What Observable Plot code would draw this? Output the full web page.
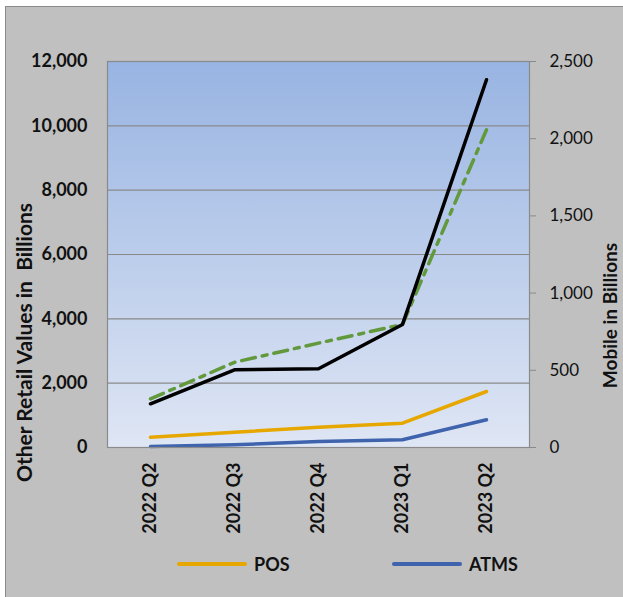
<!DOCTYPE html>
<html>
<head>
<meta charset="utf-8">
<script src="https://cdn.jsdelivr.net/npm/d3@7"></script>
<script src="https://cdn.jsdelivr.net/npm/@observablehq/plot@0.6"></script>
<style>
  html, body { margin: 0; padding: 0; background: #fff; }
  body { width: 623px; height: 597px; position: relative; overflow: hidden; font-family: Lato, "Open Sans", sans-serif; }
  #panel { position: absolute; left: 5px; top: 6px; right: 0; bottom: 0; background: #c0c0c0; border-left: 1px solid #8a8a8a; border-top: 1px solid #8a8a8a; }
  #chart { position: absolute; left: 0; top: 0; }
  .leg { position: absolute; top: 552px; height: 24px; display: flex; align-items: center; font-weight: bold; font-size: 18px; color: #111; }
  .leg .sw { width: 70px; height: 4px; border-radius: 2px; margin-right: 7px; }
</style>
</head>
<body>
<div id="panel"></div>
<div id="chart"></div>
<div class="leg" style="left:177px"><div class="sw" style="background:#e6a800"></div>POS</div>
<div class="leg" style="left:392px"><div class="sw" style="background:#3f64ad"></div>ATMS</div>
<script>
const quarters = ["2022 Q2", "2022 Q3", "2022 Q4", "2023 Q1", "2023 Q2"];
const pos = [320, 476, 631, 755, 1741];            // left axis
const atms = [31, 84, 187, 239, 861];              // left axis
const mobileBlack = [283, 503, 510, 797, 2382];    // right axis (Mobile)
const mobileGreen = [315, 552, 676, 797, 2058];    // right axis (dashed)
const leftTicks = [0, 2000, 4000, 6000, 8000, 10000, 12000];
const rightTicks = [0, 500, 1000, 1500, 2000, 2500];

const ratio = 12000 / 2500;
const rows = quarters.map((q, i) => ({
  q, pos: pos[i], atms: atms[i], blk: mobileBlack[i] * ratio, grn: mobileGreen[i] * ratio
}));
const fmt = d3.format(",");

const svg = Plot.plot({
  width: 623,
  height: 542,
  marginLeft: 107,
  marginRight: 94,
  marginTop: 61,
  marginBottom: 95,
  style: { background: "transparent", fontFamily: "Lato, 'Open Sans', sans-serif", color: "#111" },
  x: { type: "point", domain: quarters, padding: 0.5 },
  y: { domain: [0, 12000] },
  marks: [
    Plot.frame({ fill: "#9ab5e3" }),
    Plot.gridY(leftTicks.slice(1, -1), { stroke: "#8a8a8a", strokeOpacity: 1, strokeWidth: 1.2 }),
    Plot.axisY(leftTicks, { anchor: "left", tickSize: 0, tickPadding: 20, fontWeight: "bold", fontSize: 18, tickFormat: fmt, label: null }),
    Plot.axisY(rightTicks.map(d => d * ratio), { anchor: "right", tickSize: 6, tickPadding: 14, stroke: "#8a8a8a", fontSize: 17, tickFormat: d => fmt(Math.round(d / ratio)), label: null }),
    Plot.axisX({ tickRotate: -90, tickSize: 0, tickPadding: 15, fontWeight: "bold", fontSize: 18, label: null }),
    Plot.line(rows, { x: "q", y: "atms", stroke: "#3f64ad", strokeWidth: 3.5 }),
    Plot.line(rows, { x: "q", y: "pos", stroke: "#e6a800", strokeWidth: 3.5 }),
    Plot.line(rows, { x: "q", y: "grn", stroke: "#62993c", strokeWidth: 3.5, strokeDasharray: "14,7,5,7" }),
    Plot.line(rows, { x: "q", y: "blk", stroke: "#000", strokeWidth: 3.5 }),
    Plot.frame({ stroke: "#8a8a8a", strokeWidth: 1.2 }),
    Plot.text(["Other Retail Values in  Billions"], { frameAnchor: "left", textAnchor: "middle", dx: -82, dy: 88, rotate: -90, fontWeight: "bold", fontSize: 21, fill: "#111" }),
    Plot.text(["Mobile in Billions"], { frameAnchor: "right", textAnchor: "middle", dx: 81, dy: 61, rotate: -90, fontWeight: "bold", fontSize: 19, fill: "#111" })
  ]
});

// vertical gradient background for plot area
const ns = "http://www.w3.org/2000/svg";
const defs = document.createElementNS(ns, "defs");
defs.innerHTML = '<linearGradient id="bgGrad" x1="0" y1="0" x2="0" y2="1">' +
  '<stop offset="0" stop-color="#98b4e2"/><stop offset="1" stop-color="#dfe6f4"/></linearGradient>';
svg.insertBefore(defs, svg.firstChild);
const frames = svg.querySelectorAll('[aria-label="frame"]');
if (frames.length) {
  const f = frames[0];
  const r = f.tagName === "rect" ? f : f.querySelector("rect");
  if (r) r.setAttribute("fill", "url(#bgGrad)");
  f.setAttribute("fill", "url(#bgGrad)");
}
document.getElementById("chart").appendChild(svg);
</script>
</body>
</html>
